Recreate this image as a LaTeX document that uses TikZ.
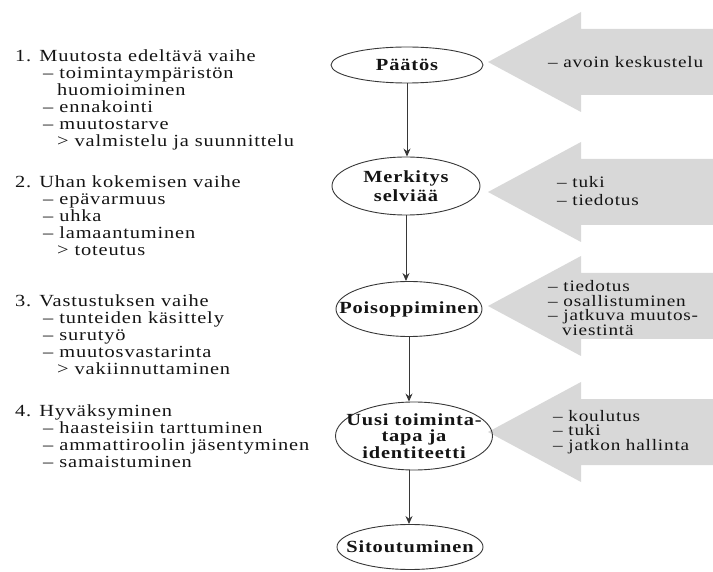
\documentclass[tikz,border=0pt]{standalone}
\usepackage{fontspec}
\setmainfont[FakeStretch=1.2,LetterSpace=5]{Liberation Serif}
\usetikzlibrary{shapes.geometric,arrows.meta}

\definecolor{nuoli}{RGB}{216,216,216}
\definecolor{viiva}{RGB}{55,55,55}
\definecolor{teksti}{RGB}{20,20,20}

% big grey arrow pointing left, tip at x=488
\newcommand{\isonuoli}[1]{%
  \fill[nuoli] (488,#1) -- (581,#1-50) -- (581,#1-33) -- (713,#1-33)
    -- (713,#1+33) -- (581,#1+33) -- (581,#1+50) -- cycle;}

\begin{document}
\begin{tikzpicture}[x=1pt,y=-1pt,>={Stealth[length=8pt,width=7pt]},
    vaihe/.style={ellipse,draw=viiva,line width=0.9pt,inner sep=0pt},
    vaiheteksti/.style={align=center,inner sep=0pt,text=teksti,
        font=\fontsize{17}{16.5}\selectfont\bfseries},
    lista/.style={align=left,anchor=north west,inner sep=0pt,text=teksti,
        font=\fontsize{17}{17}\selectfont},
    tuki/.style={align=left,anchor=west,inner sep=0pt,text=teksti,
        font=\fontsize{16}{14.5}\selectfont}]
    \useasboundingbox (0,0) rectangle (713,572);

    \isonuoli{62}
    \isonuoli{192}
    \isonuoli{306}
    \isonuoli{432}

    \node[vaihe,minimum width=152pt,minimum height=36pt] (paatos) at (407,65) {};
    \node[vaihe,minimum width=148pt,minimum height=58pt] (merkitys) at (406,186) {};
    \node[vaihe,minimum width=146pt,minimum height=55pt] (poiso) at (409,309) {};
    \node[vaihe,minimum width=157pt,minimum height=68pt] (uusi) at (414,436) {};
    \node[vaihe,minimum width=146pt,minimum height=45pt] (sito) at (410,547) {};

    \node[vaiheteksti] (paatosteksti) at (paatos) {Päätös};
    \node[vaiheteksti] (merkitysteksti) at (merkitys) {Merkitys\\[2pt]selviää};
    \node[vaiheteksti] (poisoteksti) at (poiso) {Poisoppiminen};
    \node[vaiheteksti] (uusiteksti) at (uusi) {Uusi toiminta-\\tapa ja\\identiteetti};
    \node[vaiheteksti] (sitoteksti) at (sito) {Sitoutuminen};

    \draw[viiva,line width=1pt,->] (paatos.south) -- (paatos.south |- merkitys.north);
    \draw[viiva,line width=1pt,->] (merkitys.south) -- (merkitys.south |- poiso.north);
    \draw[viiva,line width=1pt,->] (poiso.south) -- (poiso.south |- uusi.north);
    \draw[viiva,line width=1pt,->] (uusi.south -| poiso.south) -- (poiso.south |- sito.north);

    \node[tuki] (tuki1) at (548,62) {– avoin keskustelu};
    \node[tuki] (tuki2) at (557,191) {– tuki\\[4pt]– tiedotus};
    \node[tuki] (tuki3) at (548,308) {– tiedotus\\– osallistuminen\\– jatkuva muutos-\\\hspace*{14pt}viestintä};
    \node[tuki] (tuki4) at (553,432) {– koulutus\\– tuki\\– jatkon hallinta};

    \node[lista] (vaihe1) at (15,50) {1. Muutosta edeltävä vaihe\\
        \hspace*{28pt}– toimintaympäristön\\
        \hspace*{42pt}huomioiminen\\
        \hspace*{28pt}– ennakointi\\
        \hspace*{28pt}– muutostarve\\
        \hspace*{42pt}> valmistelu ja suunnittelu};
    \node[lista] (vaihe2) at (15,176) {2. Uhan kokemisen vaihe\\
        \hspace*{28pt}– epävarmuus\\
        \hspace*{28pt}– uhka\\
        \hspace*{28pt}– lamaantuminen\\
        \hspace*{42pt}> toteutus};
    \node[lista] (vaihe3) at (15,295) {3. Vastustuksen vaihe\\
        \hspace*{28pt}– tunteiden käsittely\\
        \hspace*{28pt}– surutyö\\
        \hspace*{28pt}– muutosvastarinta\\
        \hspace*{42pt}> vakiinnuttaminen};
    \node[lista] (vaihe4) at (15,405) {4. Hyväksyminen\\
        \hspace*{28pt}– haasteisiin tarttuminen\\
        \hspace*{28pt}– ammattiroolin jäsentyminen\\
        \hspace*{28pt}– samaistuminen};
\end{tikzpicture}
\end{document}
